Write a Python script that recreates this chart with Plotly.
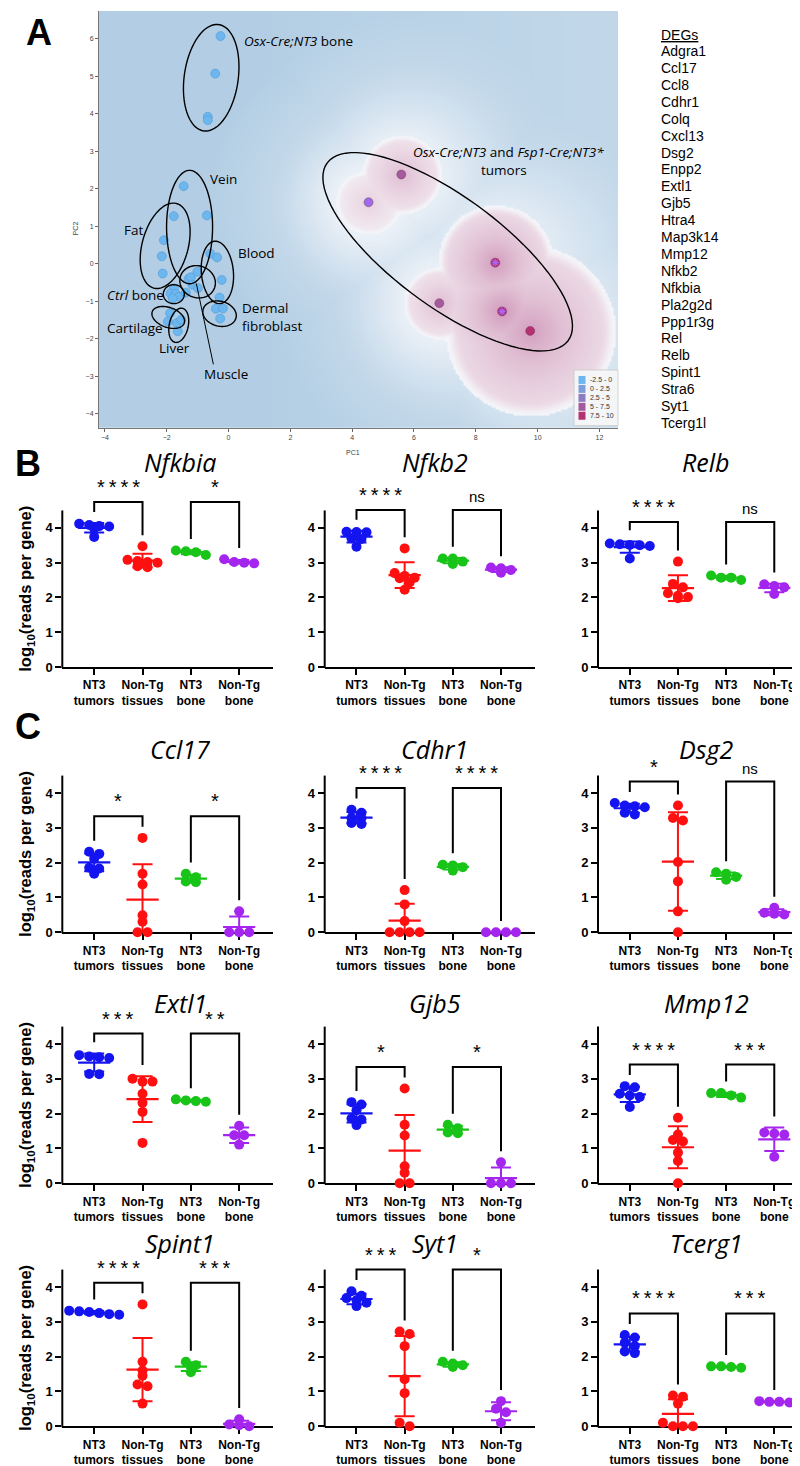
import numpy as np
import plotly.graph_objects as go

W, H = 800, 1466

# ======================= DATA =======================
# ---- Panel A: PCA ----
normal_tissue = (["Osx-Cre;NT3 bone"] * 4 + ["Vein"] * 3 + ["Fat"] * 3 + ["Blood"] * 4 +
                 ["Muscle"] * 5 + ["Ctrl bone"] * 6 + ["Cartilage"] * 2 + ["Liver"] * 3 +
                 ["Dermal fibroblast"] * 3)
normal_pc1 = [-0.26, -0.43, -0.67, -0.67,
              -1.45, -0.70, -1.77,
              -2.09, -2.16, -2.13,
              -0.59, -0.37, -0.22, -0.29,
              -1.01, -1.29, -1.22, -1.17, -0.99,
              -1.77, -1.88, -1.71, -1.60, -1.81, -1.38,
              -1.89, -1.96,
              -1.67, -1.64, -1.53,
              -0.41, -0.18, -0.27]
normal_pc2 = [6.07, 5.07, 3.92, 3.83,
              2.07, 1.29, 1.27,
              0.63, 0.20, -0.26,
              0.27, 0.17, -0.43, -0.90,
              -0.21, -0.40, -0.36, -0.56, -0.65,
              -0.66, -0.79, -0.80, -0.88, -0.92, -0.77,
              -1.32, -1.54,
              -1.58, -1.80, -1.49,
              -1.20, -1.19, -1.46]
normal_score = [-1.2] * len(normal_pc1)

tumor_pc1 = [4.53, 5.59, 8.63, 6.82, 8.85, 9.76]
tumor_pc2 = [1.64, 2.38, 0.03, -1.05, -1.27, -1.79]
tumor_score = [3.6, 6.1, 8.9, 6.0, 9.2, 8.7]
tumor_fsp1 = [True, False, True, False, True, False]

score_bin_edges = [-2.5, 0, 2.5, 5, 7.5, 10]
score_bin_labels = ["-2.5 - 0", "0 - 2.5", "2.5 - 5", "5 - 7.5", "7.5 - 10"]

deg_list = ["Adgra1", "Ccl17", "Ccl8", "Cdhr1", "Colq", "Cxcl13", "Dsg2", "Enpp2", "Extl1",
            "Gjb5", "Htra4", "Map3k14", "Mmp12", "Nfkb2", "Nfkbia", "Pla2g2d", "Ppp1r3g",
            "Rel", "Relb", "Spint1", "Stra6", "Syt1", "Tcerg1l"]

# ---- Panels B/C: log10(reads per gene) ----
groups = ["NT3<br>tumors", "Non-Tg<br>tissues", "NT3<br>bone", "Non-Tg<br>bone"]
genes = ["Nfkbia", "Nfkb2", "Relb", "Ccl17", "Cdhr1", "Dsg2",
         "Extl1", "Gjb5", "Mmp12", "Spint1", "Syt1", "Tcerg1"]

nfkbia = [[4.12, 4.08, 4.05, 4.04, 3.98, 3.74], [3.47, 3.08, 3.05, 3.02, 3.00, 2.90, 2.87],
          [3.35, 3.33, 3.30, 3.22], [3.10, 3.02, 3.00, 2.98]]
nfkb2 = [[3.89, 3.88, 3.87, 3.70, 3.68, 3.46], [3.41, 2.70, 2.62, 2.57, 2.55, 2.43, 2.22],
         [3.12, 3.12, 3.03, 2.96], [2.86, 2.84, 2.79, 2.71]]
relb = [[3.55, 3.53, 3.51, 3.50, 3.48, 3.12], [3.03, 2.39, 2.29, 2.12, 2.05, 2.01, 1.98],
        [2.63, 2.57, 2.57, 2.50], [2.38, 2.33, 2.29, 2.10]]
ccl17 = [[2.31, 2.25, 2.11, 1.85, 1.83, 1.68], [2.71, 1.68, 1.37, 0.49, 0.30, 0.0, 0.0],
         [1.68, 1.58, 1.46, 1.44], [0.60, 0.0, 0.0, 0.0]]
cdhr1 = [[3.52, 3.43, 3.28, 3.28, 3.14, 3.11], [1.21, 0.80, 0.32, 0.0, 0.0, 0.0, 0.0],
         [1.94, 1.92, 1.87, 1.77], [0.0, 0.0, 0.0, 0.0]]
dsg2 = [[3.71, 3.64, 3.62, 3.59, 3.43, 3.38], [3.64, 3.28, 3.21, 2.02, 1.46, 0.60, 0.0],
        [1.72, 1.68, 1.59, 1.51], [0.70, 0.56, 0.53, 0.51]]
extl1 = [[3.68, 3.64, 3.62, 3.60, 3.14, 3.13], [3.00, 2.92, 2.92, 2.57, 2.31, 2.05, 1.16],
         [2.41, 2.38, 2.36, 2.34], [1.65, 1.38, 1.38, 1.11]]
gjb5 = [[2.33, 2.26, 2.10, 1.86, 1.83, 1.67], [2.72, 1.68, 1.37, 0.49, 0.30, 0.0, 0.0],
        [1.68, 1.58, 1.46, 1.44], [0.60, 0.0, 0.0, 0.0]]
mmp12 = [[2.79, 2.76, 2.57, 2.52, 2.48, 2.19], [1.88, 1.40, 1.24, 1.20, 0.88, 0.64, 0.0],
         [2.59, 2.59, 2.52, 2.46], [1.46, 1.43, 1.40, 0.76]]
spint1 = [[3.32, 3.30, 3.28, 3.25, 3.22, 3.20], [3.50, 1.85, 1.60, 1.45, 1.20, 1.15, 0.65],
          [1.85, 1.75, 1.70, 1.55], [0.20, 0.05, 0.03, 0.0]]
syt1 = [[3.88, 3.75, 3.68, 3.62, 3.55, 3.45], [2.72, 2.65, 2.30, 1.35, 0.95, 0.10, 0.0],
        [1.85, 1.80, 1.75, 1.70], [0.72, 0.50, 0.40, 0.10]]
tcerg1 = [[2.62, 2.55, 2.40, 2.30, 2.15, 2.10], [0.88, 0.85, 0.65, 0.10, 0.0, 0.0, 0.0],
          [1.72, 1.72, 1.70, 1.68], [0.72, 0.70, 0.70, 0.68]]
gene_data = [nfkbia, nfkb2, relb, ccl17, cdhr1, dsg2, extl1, gjb5, mmp12, spint1, syt1, tcerg1]

sig_labels = [["****", "*"], ["****", "ns"], ["****", "ns"],
              ["*", "*"], ["****", "****"], ["*", "ns"],
              ["***", "**"], ["*", "*"], ["****", "***"],
              ["****", "***"], ["***", "*"], ["****", "***"]]

# ======================= STYLE / LAYOUT =======================
ARIAL = "Liberation Sans, Arial, sans-serif"
HUMAN = "Open Sans, Noto Sans, sans-serif"
group_colors = ["#1414f0", "#ff1010", "#18c418", "#a426ee"]
bin_colors = ["#6db6ee", "#7f9fdc", "#8c7cc2", "#a65a9e", "#b4326f"]


def X(px):
    return px / W


def Y(py):
    return 1 - py / H


fig = go.Figure()

# ---------- Panel A geometry ----------
A_x0, A_x1, A_y0, A_y1 = 91, 610, 3, 422
A_xr = [-4.19, 12.6]
A_yr = [-4.37, 6.74]
PXU = (A_x1 - A_x0) / (A_xr[1] - A_xr[0])
PYU = (A_y1 - A_y0) / (A_yr[1] - A_yr[0])

blob_radius_px = [32, 40, 58, 36, 60, 86]


def bin_color(s):
    for i in range(len(score_bin_labels)):
        if score_bin_edges[i] <= s < score_bin_edges[i + 1]:
            return bin_colors[i]
    return bin_colors[-1]


# background surface (blue -> white -> pink around tumour samples)
gx = np.linspace(A_xr[0], A_xr[1], 260)
gy = np.linspace(A_yr[0], A_yr[1], 210)
GX, GY = np.meshgrid(gx, gy)
dists = [np.hypot((GX - x) * PXU, (GY - y) * PYU) for x, y in zip(tumor_pc1, tumor_pc2)]
pink = np.zeros_like(GX)
for d, r, s in zip(dists, blob_radius_px, tumor_score):
    t = d / r
    edge = np.clip((1 - t) / 0.18, 0, 1)
    edge = edge * edge * (3 - 2 * edge)
    pink = np.maximum(pink, (s / 10.0) * (0.28 + 0.72 * np.clip(1 - t, 0, 1) ** 1.3) * edge)
nearest = np.min(dists, axis=0) / 31.0
halo = np.clip((nearest - 0.7) / 4.5, 0, 1) ** 0.9
base = 1 - 0.42 * np.clip((GX - 1) / 11.0, 0, 1)
blue = base * halo
Z = np.where(pink > 0.002, pink, -blue)

fig.add_trace(go.Heatmap(
    x=gx, y=gy, z=Z, zmin=-1, zmax=1, zsmooth="best", showscale=False, hoverinfo="skip",
    colorscale=[[0.0, "rgb(179,206,228)"], [0.25, "rgb(196,217,234)"], [0.5, "rgb(244,246,250)"],
                [0.6, "rgb(238,224,233)"], [0.8, "rgb(224,190,211)"],
                [1.0, "rgb(205,145,182)"]],
    xaxis="x", yaxis="y"))

# normal tissue samples
fig.add_trace(go.Scatter(
    x=normal_pc1, y=normal_pc2, mode="markers", hoverinfo="text", text=normal_tissue,
    marker=dict(size=9, color=[bin_color(s) for s in normal_score],
                line=dict(color="#4f9ad8", width=0.6)),
    xaxis="x", yaxis="y"))
# tumour samples
fig.add_trace(go.Scatter(
    x=tumor_pc1, y=tumor_pc2, mode="markers",
    marker=dict(size=9, color=[bin_color(s) for s in tumor_score],
                line=dict(color="rgba(90,30,80,0.6)", width=0.6)),
    xaxis="x", yaxis="y"))
fig.add_trace(go.Scatter(
    x=[x for x, f in zip(tumor_pc1, tumor_fsp1) if f],
    y=[y for y, f in zip(tumor_pc2, tumor_fsp1) if f],
    mode="markers", marker=dict(symbol="asterisk-open", size=6, line=dict(color="black", width=1.2)),
    xaxis="x", yaxis="y"))

# cluster outlines (centre in data units, semi-axes in px, rotation deg)
ellipses = [(-0.56, 4.96, 27, 54, -8), (-1.26, 0.98, 23, 57, 0), (-2.05, 0.48, 23, 44, -15),
            (-0.36, -0.23, 16, 31.5, 5), (-1.00, -0.48, 18, 16, -20), (-1.77, -0.81, 10.5, 9.5, 0),
            (-1.95, -1.43, 17, 10, -20), (-1.61, -1.64, 9.5, 17.5, -12), (-0.29, -1.33, 17, 12.5, -15),
            (7.09, 0.32, 150, 55, -36.6)]
shapes = []
for cx, cy, a, b, ang in ellipses:
    th = np.radians(ang)
    t = np.linspace(0, 2 * np.pi, 90, endpoint=False)
    dx = a * np.cos(t) * np.cos(th) - b * np.sin(t) * np.sin(th)
    dy = a * np.cos(t) * np.sin(th) + b * np.sin(t) * np.cos(th)
    xs = cx + dx / PXU
    ys = cy + dy / PYU
    path = "M " + " L ".join(f"{u:.4f},{v:.4f}" for u, v in zip(xs, ys)) + " Z"
    shapes.append(dict(type="path", path=path, xref="x", yref="y",
                       line=dict(color="black", width=1.4)))
# Muscle pointer
shapes.append(dict(type="line", xref="x", yref="y", x0=-1.04, y0=-0.53, x1=-0.49, y1=-2.68,
                   line=dict(color="black", width=1)))

annotations = []
A_labels = [("<i>Osx-Cre;NT3</i> bone", 0.42, 5.94, "left"),
            ("<i>Osx-Cre;NT3</i> and <i>Fsp1-Cre;NT3*</i>", 9.06, 2.97, "center"),
            ("tumors", 8.9, 2.49, "center"),
            ("Vein", -0.68, 2.25, "left"), ("Fat", -3.43, 0.90, "left"),
            ("Blood", 0.23, 0.29, "left"), ("<i>Ctrl</i> bone", -4.01, -0.82, "left"),
            ("Dermal", 0.36, -1.19, "left"), ("fibroblast", 0.36, -1.67, "left"),
            ("Cartilage", -4.01, -1.72, "left"), ("Liver", -2.30, -2.25, "left"),
            ("Muscle", -0.87, -2.94, "left")]
for txt, ax_, ay_, anc in A_labels:
    annotations.append(dict(text=txt, x=ax_, y=ay_, xref="x", yref="y", xanchor=anc, yanchor="middle",
                            showarrow=False, font=dict(family=HUMAN, size=13.5, color="black")))
annotations.append(dict(text="PC1", x=X(345), y=Y(441), xref="paper", yref="paper", showarrow=False,
                        font=dict(family=ARIAL, size=7, color="#444")))
annotations.append(dict(text="PC2", x=X(62), y=Y(213), xref="paper", yref="paper", showarrow=False,
                        textangle=-90, font=dict(family=ARIAL, size=7, color="#444")))

# score legend box
shapes.append(dict(type="rect", xref="paper", yref="paper", x0=X(566), x1=X(610), y0=Y(420), y1=Y(364),
                   fillcolor="rgba(246,246,247,0.95)", line=dict(color="#c8c8c8", width=0.8)))
for i, lab in enumerate(score_bin_labels):
    yc = 374 + 9 * i
    shapes.append(dict(type="rect", xref="paper", yref="paper", x0=X(570.5), x1=X(577.5),
                       y0=Y(yc + 4), y1=Y(yc - 4), fillcolor=bin_colors[i], line=dict(width=0)))
    annotations.append(dict(text=lab, x=X(580), y=Y(yc), xref="paper", yref="paper", xanchor="left",
                            yanchor="middle", showarrow=False,
                            font=dict(family=ARIAL, size=7, color="#333")))

# DEG list
annotations.append(dict(text="<u>DEGs</u>", x=X(651), y=Y(26.7), xref="paper", yref="paper",
                        xanchor="left", yanchor="middle", showarrow=False,
                        font=dict(family=ARIAL, size=14, color="black")))
for i, g in enumerate(deg_list):
    annotations.append(dict(text=g, x=X(651), y=Y(43.3 + 17 * i), xref="paper", yref="paper",
                            xanchor="left", yanchor="middle", showarrow=False,
                            font=dict(family=ARIAL, size=14, color="black")))

layout = dict(
    xaxis=dict(domain=[X(A_x0), X(A_x1)], range=A_xr, anchor="y", tickvals=list(range(-4, 13, 2)),
               ticks="outside", ticklen=3, tickcolor="#666", showline=True, linecolor="#777",
               linewidth=1, showgrid=False, zeroline=False,
               tickfont=dict(family=ARIAL, size=7, color="#444")),
    yaxis=dict(domain=[Y(A_y1), Y(A_y0)], range=A_yr, anchor="x", tickvals=list(range(-4, 7)),
               ticks="outside", ticklen=3, tickcolor="#666", showline=True, linecolor="#777",
               linewidth=1, showgrid=False, zeroline=False,
               tickfont=dict(family=ARIAL, size=7, color="#444")),
)

# ---------- Panels B / C ----------
col_px = [(54.3, 265.0), (316.7, 526.7), (590.0, 800.0)]
row_zero_py = [662.7, 929.3, 1181.7, 1426.0]
title_py = [456, 745, 1000, 1242]
title_px = [172, 427, 698]
YPU = 35.0            # px per log unit
XR = [-0.66, 3.7]
YR = [0, 5.0]
DOT = 10


def swarm_offsets(vals, xpu):
    vals = np.asarray(vals, float)
    order = np.argsort(-vals, kind="stable")
    rows = []
    for i in order:
        if rows and abs(vals[rows[-1][0]] - vals[i]) * YPU < 4.6:
            rows[-1].append(i)
        else:
            rows.append([i])
    offs = np.zeros(len(vals))
    for r in rows:
        n = len(r)
        for k, i in enumerate(r):
            offs[i] = (k - (n - 1) / 2) * DOT / xpu
    return offs


for k, (gene, data) in enumerate(zip(genes, gene_data)):
    r, c = divmod(k, 3)
    n = k + 2
    xa, ya = f"x{n}", f"y{n}"
    x0p, x1p = col_px[c]
    y0p = row_zero_py[r]
    xpu = (x1p - x0p) / (XR[1] - XR[0])
    layout[f"xaxis{n}"] = dict(
        domain=[X(x0p), X(x1p)], range=XR, anchor=ya, tickvals=[0, 1, 2, 3], ticktext=groups,
        ticks="outside", ticklen=6, tickwidth=2, tickcolor="black", showline=True, linewidth=2,
        linecolor="black", showgrid=False, zeroline=False, layer="below traces",
        tickfont=dict(family=ARIAL, size=12, color="black", weight="bold"))
    layout[f"yaxis{n}"] = dict(
        domain=[Y(y0p), Y(y0p - YR[1] * YPU)], range=YR, anchor=xa, tickvals=[0, 1, 2, 3, 4],
        ticks="outside", ticklen=6, tickwidth=2, tickcolor="black", showline=False,
        showgrid=False, zeroline=False, layer="below traces",
        tickfont=dict(family=ARIAL, size=13, color="black", weight="bold"))
    # y axis line (stops at 4.5)
    shapes.append(dict(type="line", xref="paper", yref="paper", x0=X(x0p), x1=X(x0p),
                       y0=Y(y0p + 1), y1=Y(y0p - 4.5 * YPU), line=dict(color="black", width=2)))

    tops = []
    for gi, vals in enumerate(data):
        vals = np.asarray(vals, float)
        m = vals.mean()
        sd = vals.std(ddof=1)
        tops.append(max(vals.max(), m + sd))
        fig.add_trace(go.Scatter(
            x=gi + swarm_offsets(vals, xpu), y=vals, mode="markers", cliponaxis=False,
            marker=dict(size=DOT, color=group_colors[gi], line=dict(width=0)),
            xaxis=xa, yaxis=ya))
        fig.add_trace(go.Scatter(
            x=[gi], y=[m], mode="markers",
            marker=dict(symbol="line-ew", size=23, color=group_colors[gi],
                        line=dict(color=group_colors[gi], width=2.2)),
            error_y=dict(type="data", array=[sd], visible=True, color=group_colors[gi],
                         thickness=2, width=10),
            xaxis=xa, yaxis=ya))

    top = max(max(v) for v in data) + 0.62
    for p, (g0, g1) in enumerate([(0, 1), (2, 3)]):
        fig.add_trace(go.Scatter(
            x=[g0, g0, g1, g1], y=[tops[g0] + 0.32, top, top, tops[g1] + 0.32], mode="lines",
            line=dict(color="black", width=2), xaxis=xa, yaxis=ya, hoverinfo="skip"))
        lab = sig_labels[k][p]
        if lab == "ns":
            annotations.append(dict(text="ns", x=(g0 + g1) / 2, y=top, xref=xa, yref=ya,
                                    xanchor="center", yanchor="bottom", yshift=3, showarrow=False,
                                    font=dict(family=ARIAL, size=15, color="black")))
        else:
            annotations.append(dict(text="\u2009".join(lab), x=(g0 + g1) / 2, y=top, xref=xa, yref=ya,
                                    xanchor="center", yanchor="bottom", yshift=2, showarrow=False,
                                    font=dict(family=ARIAL, size=20, color="black")))

    annotations.append(dict(text=f"<i>{gene}</i>", x=X(title_px[c]), y=Y(title_py[r]),
                            xref="paper", yref="paper", xanchor="center", yanchor="middle",
                            showarrow=False, font=dict(family=HUMAN, size=25, color="black")))
    if c == 0:
        annotations.append(dict(text="log<sub>10</sub>(reads per gene)", x=X(18),
                                y=Y(y0p - 4.5 * YPU / 2), xref="paper", yref="paper",
                                xanchor="center", yanchor="middle", textangle=-90, showarrow=False,
                                font=dict(family=ARIAL, size=16.5, color="black", weight="bold")))

# panel letters
for letter, px_, py_ in [("A", 31, 25), ("B", 20, 458), ("C", 20, 722)]:
    annotations.append(dict(text=letter, x=X(px_), y=Y(py_), xref="paper", yref="paper",
                            xanchor="center", yanchor="middle", showarrow=False,
                            font=dict(family=ARIAL, size=36, color="black", weight="bold")))

fig.update_layout(
    width=W, height=H, margin=dict(l=0, r=0, t=0, b=0), showlegend=False,
    paper_bgcolor="white", plot_bgcolor="rgba(0,0,0,0)",
    shapes=shapes, annotations=annotations, **layout)

fig.write_html("out.html")
